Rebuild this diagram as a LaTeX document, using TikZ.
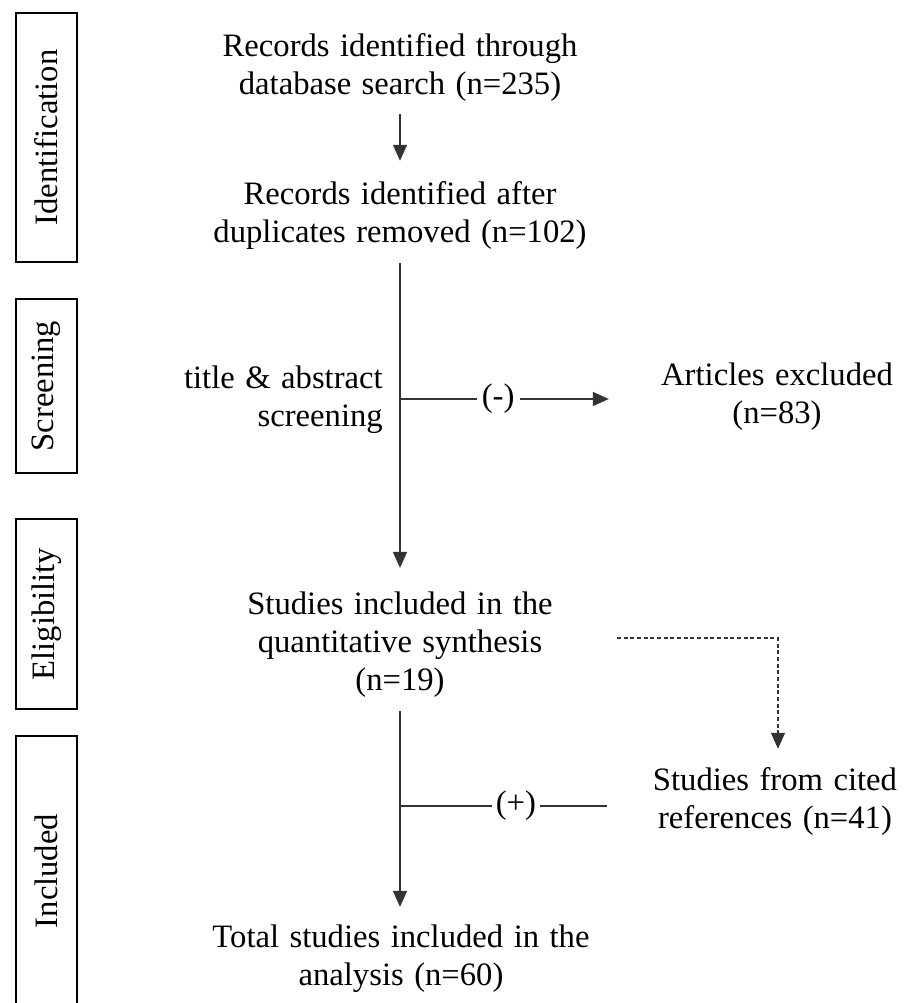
\documentclass[tikz,border=0pt]{standalone}
\usepackage{fontspec}
\setmainfont{Liberation Serif}
\usetikzlibrary{arrows.meta,calc}
\newcommand{\mfs}{\fontsize{24.5pt}{28.5pt}\selectfont\spaceskip=0.32em plus 0.1em}
\begin{document}
\begin{tikzpicture}[x=0.75pt,y=-0.75pt,
  txt/.style={align=center,inner sep=0pt,font=\mfs},
  stage/.style={draw=black,line width=1.9pt,rotate=90,font=\mfs,inner sep=0pt,minimum height=45.75pt},
  conn/.style={draw=black!80,line width=1.1pt},
  arr/.style={conn,-{Triangle[length=12pt,width=10.5pt]}},
  dashline/.style={conn,line width=0.9pt,dash pattern=on 3pt off 2pt},
  sign/.style={fill=white,inner sep=4pt,font=\mfs}]
\useasboundingbox (0,0) rectangle (906,1003);
\clip (0,0) rectangle (906,1003);
\fill[white] (0,0) rectangle (906,1003);
% stage boxes
\node[stage,minimum width=186.75pt] (sid) at (46.5,137.5) {Identification};
\node[stage,minimum width=130.5pt] (ssc) at (46.5,386) {Screening};
\node[stage,minimum width=142.5pt] (sel) at (46.5,614) {Eligibility};
\node[stage,minimum width=202.5pt] (sin) at (46.5,871) {Included};
% main nodes
\node[txt] (n1) at (400,67) {Records identified through\\database search (n=235)};
\node[txt] (n2) at (400,215) {Records identified after\\duplicates removed (n=102)};
\node[txt,align=right,anchor=east] (ta) at (383,400) {title \& abstract\\screening};
\node[txt] (ex) at (777,397) {Articles excluded\\(n=83)};
\node[txt] (n3) at (400,645) {Studies included in the\\quantitative synthesis\\(n=19)};
\node[txt] (ci) at (775,801) {Studies from cited\\references (n=41)};
\node[txt] (n4) at (401,959) {Total studies included in the\\analysis (n=60)};
% connectors
\draw[arr] ($(n1.south)+(0,13)$) -- ($(n2.north)+(0,-20)$);
\coordinate (b1) at ($(n2.south)+(0,14)$);
\coordinate (j1) at (400,399);
\draw[arr] (b1) -- ($(n3.north)+(0,-24)$);
\draw[arr] (j1) -- node[sign,pos=0.47] (m1) {(-)} ($(ex.west)+(-52,2)$);
\coordinate (d0) at ($(n3.east)+(64,-7)$);
\coordinate (d1) at (778,638);
\draw[dashline,-{Triangle[length=12pt,width=10.5pt]}] (d0) -- (d1) -- ($(ci.north)+(3,-18)$);
\coordinate (b2) at ($(n3.south)+(0,13)$);
\draw[arr] (b2) -- ($(n4.north)+(-1,-18)$);
\coordinate (j2) at (400,806);
\coordinate (e2) at (607,806);
\draw[conn] (j2) -- node[sign,pos=0.56,inner sep=3pt] (m2) {(+)} (e2);
\end{tikzpicture}
\end{document}
